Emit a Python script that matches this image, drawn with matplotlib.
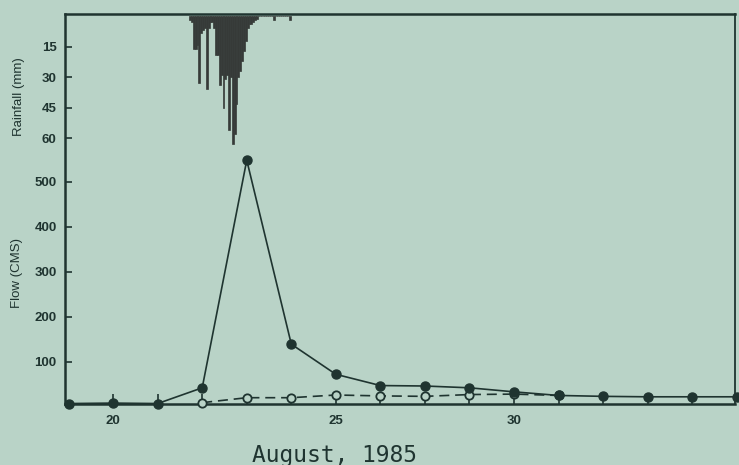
import numpy as np
import matplotlib.pyplot as plt

# daily flow, August 1985 (CMS)
days = [19, 20, 21, 22, 23, 24, 25, 26, 27, 28, 29, 30, 31, 32, 33, 34]
flow_obs = [7, 8, 7, 42, 548, 139, 72, 47, 46, 42, 33, 25, 23, 22, 22, 22]

days_sim = [22, 23, 24, 25, 26, 27, 28, 29, 30]
flow_sim = [9, 20, 20, 26, 24, 23, 27, 28, 25]

# hourly rainfall (mm) starting Aug 21, 17:00
rain_start = 21 + 17 / 24.0
rain_mm = [2, 3, 16, 16, 14, 33, 8, 7, 6, 36, 6, 3, 3, 6, 19, 19, 34, 29,
           45, 31, 29, 56, 30, 63, 58, 43, 30, 27, 22, 17, 12, 6, 4, 4, 3,
           2, 1.5, 0, 0, 0, 0, 0, 0, 0, 0, 2, 0, 0, 0, 0, 0, 0, 0, 0, 2]

xtick_pos = [20, 25, 29]
xtick_lab = ['20', '25', '30']

bg = '#b9d3c7'
ink = '#1f3430'
rain_col = '#363a38'

fig = plt.figure(figsize=(7.39, 4.65), dpi=100, facecolor=bg)
ax = fig.add_axes([65 / 739, 1 - 404 / 465, 670 / 739, 390 / 465])
ax.set_facecolor(bg)

ax.plot(days, flow_obs, '-o', color=ink, lw=1.2, ms=6.5,
        mfc=ink, mec=ink, clip_on=False, zorder=4)
ax.plot(days_sim, flow_sim, '--o', color=ink, lw=1.2, ms=6,
        mfc=bg, mec=ink, mew=1.3, dashes=(6, 3.5), clip_on=False, zorder=3)

ax.set_xlim(18.92, 33.96)
ax.set_ylim(6, 873)
ax.set_xticks(xtick_pos)
ax.set_xticklabels(xtick_lab)
ax.set_xticks(days[1:-1], minor=True)
ax.set_yticks([100, 200, 300, 400, 500])
ax.tick_params(axis='x', which='both', direction='in', length=7, width=1.2,
               color=ink, pad=8, labelsize=9.5, labelcolor=ink)
ax.tick_params(axis='y', direction='in', length=5, width=1.2, color=ink,
               labelsize=9.5, labelcolor=ink, pad=6)
for lab in ax.get_xticklabels() + ax.get_yticklabels():
    lab.set_family('Liberation Sans')
    lab.set_weight('bold')

for side in ['left', 'bottom', 'top']:
    ax.spines[side].set_linewidth(1.8)
    ax.spines[side].set_color(ink)
ax.spines['right'].set_linewidth(1.3)
ax.spines['right'].set_color(ink)

# rainfall on an inverted twin axis, ticks on the left
ax2 = ax.twinx()
hours = rain_start + np.arange(len(rain_mm)) / 24.0
ax2.bar(hours, rain_mm, width=1 / 24.0, align='edge', color=rain_col,
        edgecolor=rain_col, linewidth=0.5, zorder=2)
ax2.set_ylim(190.6, -1.1)
ax2.set_yticks([15, 30, 45, 60])
ax2.yaxis.tick_left()
ax2.tick_params(axis='y', direction='in', length=5, width=1.2, color=ink,
                labelsize=9.5, labelcolor=ink, pad=6)
for lab in ax2.get_yticklabels():
    lab.set_family('Liberation Sans')
    lab.set_weight('bold')
for s in ax2.spines.values():
    s.set_visible(False)

fig.text(19 / 739, 1 - 97 / 465, 'Rainfall (mm)', rotation=90, ha='center',
         va='center', fontsize=9.5, color=ink, family='Liberation Sans')
fig.text(17 / 739, 1 - 273 / 465, 'Flow (CMS)', rotation=90, ha='center',
         va='center', fontsize=9.5, color=ink, family='Liberation Sans')
fig.text(334 / 739, 1 - 455 / 465, 'August, 1985', ha='center', va='center',
         fontsize=16.5, color=ink, family='DejaVu Sans Mono')

fig.savefig('out.png', dpi=100, facecolor=bg)
